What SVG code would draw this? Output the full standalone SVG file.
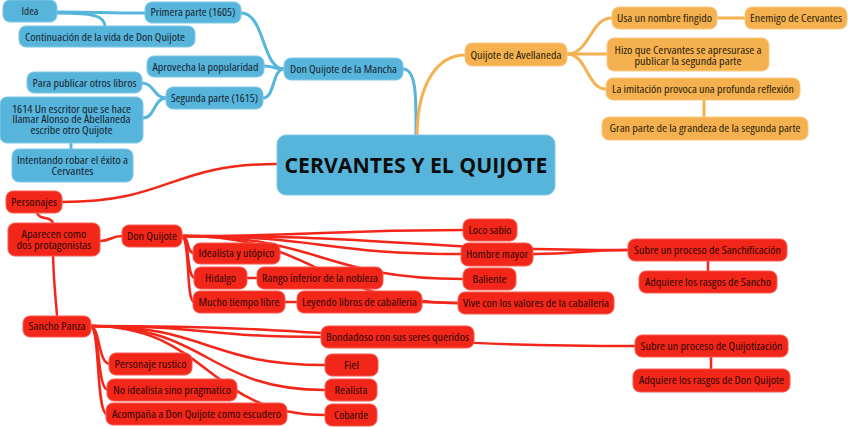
<svg xmlns="http://www.w3.org/2000/svg" width="848" height="427" viewBox="0 0 848 427">
<style>
text{font-family:"Open Sans","Noto Sans",sans-serif;font-size:10.5px;text-anchor:middle;font-stretch:87.5%}
.b rect{fill:#57b5dc;stroke:#7ec6e6;stroke-width:1}
.o rect{fill:#f5b14f;stroke:#f8c77f;stroke-width:1}
.r rect{fill:#f3261a;stroke:#f65a50;stroke-width:1}
.b text{fill:#15222f}
.o text{fill:#2a1f0a}
.r text{fill:#2e0603}
.b text.t{font-size:21.5px;font-weight:bold;fill:#0d0d0d;font-stretch:100%}
#connectors path{fill:none;stroke-linecap:round}
.cb{stroke:#57b5dc;stroke-width:3}
.co{stroke:#f5b14f;stroke-width:3}
.cr{stroke:#f3261a;stroke-width:2.5}
</style>
<g id="connectors">
<path class="cb" d="M403,69 C417,69 416,100 416,137"/>
<path class="co" d="M417,137 C417,80 440,55 465,55"/>
<path class="cb" d="M241,13 C265,13 262,69 284,69"/>
<path class="cb" d="M264,66 C274,66 274,69 284,69"/>
<path class="cb" d="M263,98 C275,98 272,69 284,69"/>
<path class="cb" d="M145,13 C100,13 100,12 57,12"/>
<path class="cb" d="M57,13 C95,13 105,16 105,27"/>
<path class="cb" d="M166,98 C154,98 154,83 142,83"/>
<path class="cb" d="M166,98 C154,98 155,118 143,118"/>
<path class="cb" d="M71,143 L71,149"/>
<path class="co" d="M567,54 C590,54 590,18 612,18"/>
<path class="co" d="M567,54 L607,54"/>
<path class="co" d="M567,54 C587,54 587,89 606,89"/>
<path class="co" d="M717,18 L745,18"/>
<path class="co" d="M704,100 L704,117"/>
<path class="cr" d="M277,164 C170,164 170,202 62,202"/>
<path class="cr" d="M37,212 C38,221 52,215 53,224"/>
<path class="cr" d="M100,241 C111,241 111,236 122,236"/>
<path class="cr" d="M53,256 C54,290 56,300 57,316"/>
<path class="cr" d="M182,236 C322,236 322,230 463,230"/>
<path class="cr" d="M182,236 C322,236 322,254 461,254"/>
<path class="cr" d="M182,236 C405,236 405,250 628,250"/>
<path class="cr" d="M182,236 C322,236 322,279 463,279"/>
<path class="cr" d="M182,236 C320,236 320,303 458,303"/>
<path class="cr" d="M182,237 C190,237 186,253 194,253"/>
<path class="cr" d="M182,237 C190,237 186,278 195,278"/>
<path class="cr" d="M182,237 C190,237 186,302 194,302"/>
<path class="cr" d="M247,278 L257,278"/>
<path class="cr" d="M285,302 L297,302"/>
<path class="cr" d="M422,302 C440,302 440,303 458,303"/>
<path class="cr" d="M533,254 C580,254 580,250 628,250"/>
<path class="cr" d="M708,261 L708,271"/>
<path class="cr" d="M91,326 C206,326 206,337 321,337"/>
<path class="cr" d="M91,326 C363,326 363,346 635,346"/>
<path class="cr" d="M91,326 C208,326 208,365 325,365"/>
<path class="cr" d="M91,326 C208,326 208,390 325,390"/>
<path class="cr" d="M91,326 C208,326 208,415 325,415"/>
<path class="cr" d="M91,327 C100,327 98,364 110,364"/>
<path class="cr" d="M91,327 C100,327 97,390 108,390"/>
<path class="cr" d="M91,327 C100,327 96,414 107,414"/>
<path class="cr" d="M711,357 L711,369"/>
</g>
<g id="n-idea" class="b"><rect x="3" y="0" width="54" height="22" rx="7"/><text x="30" y="15" textLength="17" lengthAdjust="spacingAndGlyphs">Idea</text></g>
<g id="n-primera" class="b"><rect x="145" y="2" width="96" height="21" rx="7"/><text x="193" y="16" textLength="85" lengthAdjust="spacingAndGlyphs">Primera parte (1605)</text></g>
<g id="n-continuacion" class="b"><rect x="19" y="26" width="176" height="21" rx="7"/><text x="105" y="40.5" textLength="160" lengthAdjust="spacingAndGlyphs">Continuación de la vida de Don Quijote</text></g>
<g id="n-aprovecha" class="b"><rect x="147" y="56" width="117" height="21" rx="7"/><text x="205.5" y="70.5" textLength="106" lengthAdjust="spacingAndGlyphs">Aprovecha la popularidad</text></g>
<g id="n-para" class="b"><rect x="27" y="72" width="115" height="21" rx="7"/><text x="84.5" y="86.5" textLength="104" lengthAdjust="spacingAndGlyphs">Para publicar otros libros</text></g>
<g id="n-segunda" class="b"><rect x="166" y="87" width="97" height="22" rx="7"/><text x="214.5" y="101.5" textLength="87" lengthAdjust="spacingAndGlyphs">Segunda parte (1615)</text></g>
<g id="n-1614" class="b"><rect x="0" y="97" width="143" height="46" rx="7"/><text x="71.5" y="112.5" textLength="119" lengthAdjust="spacingAndGlyphs">1614 Un escritor que se hace</text><text x="71.5" y="123" textLength="118" lengthAdjust="spacingAndGlyphs">llamar Alonso de Abellaneda</text><text x="71.5" y="133.5" textLength="82" lengthAdjust="spacingAndGlyphs">escribe otro Quijote</text></g>
<g id="n-intentando" class="b"><rect x="12" y="149" width="121" height="33" rx="7"/><text x="72.5" y="163.5" textLength="111" lengthAdjust="spacingAndGlyphs">Intentando robar el éxito a</text><text x="72.5" y="174.5" textLength="42" lengthAdjust="spacingAndGlyphs">Cervantes</text></g>
<g id="n-dqm" class="b"><rect x="284" y="58" width="119" height="22" rx="7"/><text x="343.5" y="72.5" textLength="107" lengthAdjust="spacingAndGlyphs">Don Quijote de la Mancha</text></g>
<g id="n-central" class="b"><rect x="277" y="135" width="278" height="60" rx="9"/><text class="t" x="416" y="173" textLength="263" lengthAdjust="spacingAndGlyphs">CERVANTES Y EL QUIJOTE</text></g>
<g id="n-avellaneda" class="o"><rect x="465" y="43" width="102" height="23" rx="7"/><text x="516" y="58.5" textLength="91" lengthAdjust="spacingAndGlyphs">Quijote de Avellaneda</text></g>
<g id="n-usa" class="o"><rect x="612" y="7" width="105" height="22" rx="7"/><text x="664.5" y="21.5" textLength="95" lengthAdjust="spacingAndGlyphs">Usa un nombre fingido</text></g>
<g id="n-enemigo" class="o"><rect x="745" y="7" width="102" height="22" rx="7"/><text x="796" y="21.5" textLength="92" lengthAdjust="spacingAndGlyphs">Enemigo de Cervantes</text></g>
<g id="n-hizo" class="o"><rect x="607" y="38" width="162" height="33" rx="7"/><text x="688" y="53.5" textLength="147" lengthAdjust="spacingAndGlyphs">Hizo que Cervantes se apresurase a</text><text x="688" y="64.5" textLength="107" lengthAdjust="spacingAndGlyphs">publicar la segunda parte</text></g>
<g id="n-imitacion" class="o"><rect x="606" y="78" width="194" height="22" rx="7"/><text x="703" y="92.5" textLength="182" lengthAdjust="spacingAndGlyphs">La imitación provoca una profunda reflexión</text></g>
<g id="n-gran" class="o"><rect x="602" y="117" width="206" height="23" rx="7"/><text x="705" y="132" textLength="191" lengthAdjust="spacingAndGlyphs">Gran parte de la grandeza de la segunda parte</text></g>
<g id="n-personajes" class="r"><rect x="6" y="191" width="56" height="22" rx="7"/><text x="34" y="205.5" textLength="46" lengthAdjust="spacingAndGlyphs">Personajes</text></g>
<g id="n-aparecen" class="r"><rect x="8" y="223" width="92" height="33" rx="7"/><text x="54" y="237.5" textLength="65" lengthAdjust="spacingAndGlyphs">Aparecen como</text><text x="54" y="248.5" textLength="75" lengthAdjust="spacingAndGlyphs">dos protagonistas</text></g>
<g id="n-dq" class="r"><rect x="122" y="225" width="60" height="22" rx="7"/><text x="152" y="239.5" textLength="50" lengthAdjust="spacingAndGlyphs">Don Quijote</text></g>
<g id="n-idealista" class="r"><rect x="193" y="243" width="87" height="21" rx="7"/><text x="236.5" y="257" textLength="76" lengthAdjust="spacingAndGlyphs">Idealista y utópico</text></g>
<g id="n-hidalgo" class="r"><rect x="194" y="267" width="53" height="22" rx="7"/><text x="220.5" y="281.5" textLength="31" lengthAdjust="spacingAndGlyphs">Hidalgo</text></g>
<g id="n-rango" class="r"><rect x="257" y="267" width="126" height="22" rx="7"/><text x="320" y="281.5" textLength="116" lengthAdjust="spacingAndGlyphs">Rango inferior de la nobleza</text></g>
<g id="n-mucho" class="r"><rect x="193" y="291" width="92" height="22" rx="7"/><text x="239" y="305.5" textLength="81" lengthAdjust="spacingAndGlyphs">Mucho tiempo libre</text></g>
<g id="n-leyendo" class="r"><rect x="297" y="291" width="125" height="22" rx="7"/><text x="359.5" y="305.5" textLength="115" lengthAdjust="spacingAndGlyphs">Leyendo libros de caballeria</text></g>
<g id="n-loco" class="r"><rect x="463" y="219" width="54" height="22" rx="7"/><text x="490" y="233.5" textLength="43" lengthAdjust="spacingAndGlyphs">Loco sabio</text></g>
<g id="n-hombre" class="r"><rect x="461" y="243" width="72" height="23" rx="7"/><text x="497" y="258" textLength="62" lengthAdjust="spacingAndGlyphs">Hombre mayor</text></g>
<g id="n-baliente" class="r"><rect x="463" y="268" width="53" height="22" rx="7"/><text x="489.5" y="282.5" textLength="34" lengthAdjust="spacingAndGlyphs">Baliente</text></g>
<g id="n-vive" class="r"><rect x="458" y="292" width="156" height="22" rx="7"/><text x="536" y="306.5" textLength="146" lengthAdjust="spacingAndGlyphs">Vive con los valores de la caballeria</text></g>
<g id="n-sanchificacion" class="r"><rect x="628" y="239" width="159" height="22" rx="7"/><text x="707.5" y="253.5" textLength="147" lengthAdjust="spacingAndGlyphs">Subre un proceso de Sanchificación</text></g>
<g id="n-rasgos-sancho" class="r"><rect x="639" y="271" width="138" height="22" rx="7"/><text x="708" y="285.5" textLength="126" lengthAdjust="spacingAndGlyphs">Adquiere los rasgos de Sancho</text></g>
<g id="n-sancho" class="r"><rect x="23" y="316" width="68" height="21" rx="7"/><text x="57" y="330" textLength="57" lengthAdjust="spacingAndGlyphs">Sancho Panza</text></g>
<g id="n-rustico" class="r"><rect x="109" y="353" width="83" height="22" rx="7"/><text x="150.5" y="367.5" textLength="72" lengthAdjust="spacingAndGlyphs">Personaje rustico</text></g>
<g id="n-noidealista" class="r"><rect x="107" y="379" width="130" height="22" rx="7"/><text x="172" y="393.5" textLength="118" lengthAdjust="spacingAndGlyphs">No idealista sino pragmatico</text></g>
<g id="n-acompana" class="r"><rect x="106" y="403" width="181" height="22" rx="7"/><text x="196.5" y="417.5" textLength="169" lengthAdjust="spacingAndGlyphs">Acompaña a Don Quijote como escudero</text></g>
<g id="n-bondadoso" class="r"><rect x="321" y="326" width="153" height="22" rx="7"/><text x="397.5" y="340.5" textLength="143" lengthAdjust="spacingAndGlyphs">Bondadoso con sus seres queridos</text></g>
<g id="n-fiel" class="r"><rect x="325" y="354" width="53" height="22" rx="7"/><text x="351.5" y="368.5" textLength="15" lengthAdjust="spacingAndGlyphs">Fiel</text></g>
<g id="n-realista" class="r"><rect x="325" y="379" width="52" height="22" rx="7"/><text x="351" y="393.5" textLength="33" lengthAdjust="spacingAndGlyphs">Realista</text></g>
<g id="n-cobarde" class="r"><rect x="325" y="404" width="52" height="22" rx="7"/><text x="351" y="418.5" textLength="34" lengthAdjust="spacingAndGlyphs">Cobarde</text></g>
<g id="n-quijotizacion" class="r"><rect x="635" y="335" width="153" height="22" rx="7"/><text x="711.5" y="349.5" textLength="142" lengthAdjust="spacingAndGlyphs">Subre un proceso de Quijotización</text></g>
<g id="n-rasgos-dq" class="r"><rect x="633" y="369" width="157" height="23" rx="7"/><text x="711.5" y="384" textLength="145" lengthAdjust="spacingAndGlyphs">Adquiere los rasgos de Don Quijote</text></g>
</svg>
